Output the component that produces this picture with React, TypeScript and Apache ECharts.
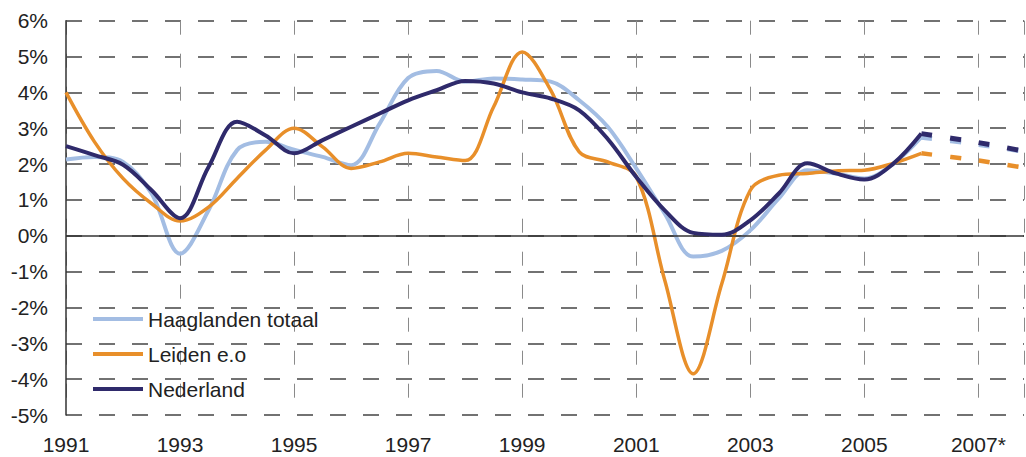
import { useEffect, useRef } from 'react';
import * as echarts from 'echarts';

const baseYear = 1991;
const years = [1991, 1991.5, 1992, 1992.5, 1993, 1993.5, 1994, 1994.5, 1995, 1995.5, 1996, 1996.5, 1997, 1997.5, 1998, 1998.5, 1999, 1999.5, 2000, 2000.5, 2001, 2001.5, 2002, 2002.5, 2003, 2003.5, 2004, 2004.5, 2005, 2005.5, 2006];
const haaglanden = [2.13, 2.2, 2.06, 1.18, -0.5, 0.71, 2.39, 2.62, 2.4, 2.2, 1.97, 3.13, 4.4, 4.6, 4.3, 4.39, 4.36, 4.3, 3.78, 3.04, 1.88, 0.62, -0.58, -0.42, 0.15, 1.04, 1.83, 1.74, 1.6, 2.0, 2.75];
const leiden = [4.0, 2.62, 1.6, 0.9, 0.41, 0.8, 1.6, 2.39, 3.0, 2.48, 1.88, 2.06, 2.3, 2.2, 2.1, 3.6, 5.13, 4.06, 2.34, 2.06, 1.65, -1.24, -3.85, -1.34, 1.27, 1.69, 1.74, 1.81, 1.83, 2.02, 2.3];
const nederland = [2.5, 2.25, 1.98, 1.27, 0.49, 1.92, 3.18, 2.8, 2.3, 2.67, 3.04, 3.41, 3.78, 4.06, 4.32, 4.25, 4.0, 3.83, 3.5, 2.7, 1.64, 0.71, 0.08, 0.03, 0.43, 1.18, 2.02, 1.74, 1.57, 2.0, 2.85];

const forecastYears = [2006, 2007, 2008];
const haaglandenForecast = [2.75, 2.55, 2.3];
const leidenForecast = [2.3, 2.1, 1.85];
const nederlandForecast = [2.85, 2.6, 2.3];

const xTickLabels = ['1991', '1993', '1995', '1997', '1999', '2001', '2003', '2005', '2007*'];
const seriesNames = ['Haaglanden totaal', 'Leiden e.o', 'Nederland'];
const colors = ['#a3bde3', '#e88f2a', '#2f2a6b'];

const FONT = 'Liberation Sans, Arial, sans-serif';

const toPairs = (xs: number[], ys: number[]) => xs.map((x, i) => [x - baseYear, ys[i]]);

export default function App() {
  const ref = useRef<HTMLDivElement>(null);
  useEffect(() => {
    if (!ref.current) return;
    const chart = echarts.init(ref.current, undefined, { renderer: 'svg' });
    const solid = [haaglanden, leiden, nederland];
    const fc = [haaglandenForecast, leidenForecast, nederlandForecast];
    const widths = [4, 3.5, 4];
    const series: any[] = [];
    solid.forEach((ys, i) => {
      const s: any = {
        name: seriesNames[i],
        type: 'line',
        data: toPairs(years, ys),
        smooth: 0.35,
        symbol: 'none',
        lineStyle: { color: colors[i], width: widths[i] },
        itemStyle: { color: colors[i] },
        z: 3 + i,
      };
      if (i === 0) {
        s.markLine = {
          silent: true,
          symbol: 'none',
          label: { show: false },
          lineStyle: { color: '#333', width: 1.5, type: 'solid' },
          data: [{ yAxis: 0 }],
        };
      }
      series.push(s);
    });
    fc.forEach((ys, i) => {
      series.push({
        name: seriesNames[i] + ' prognose',
        type: 'line',
        data: toPairs(forecastYears, ys),
        smooth: 0.2,
        symbol: 'none',
        lineStyle: { color: colors[i], width: widths[i] + 1, type: [11, 18] },
        z: 3 + i,
      });
    });
    chart.setOption({
      animation: false,
      backgroundColor: '#ffffff',
      grid: { left: 66, right: 2, top: 20.7, bottom: 42, containLabel: false },
      legend: {
        data: seriesNames,
        orient: 'vertical',
        left: 88,
        top: 303,
        icon: 'rect',
        itemWidth: 50,
        itemHeight: 4,
        itemGap: 13,
        textStyle: { fontFamily: FONT, fontSize: 21, color: '#222', lineHeight: 22 },
      },
      xAxis: {
        type: 'value',
        min: 0,
        max: 16.8,
        interval: 2,
        axisLine: { show: false },
        axisTick: { show: false },
        axisLabel: {
          margin: 19,
          fontFamily: FONT,
          fontSize: 21,
          color: '#222',
          showMaxLabel: false,
          formatter: (v: number) => (Number.isInteger(v / 2) ? xTickLabels[v / 2] ?? '' : ''),
        },
        splitLine: { show: true, lineStyle: { color: '#8a8a8a', width: 1, type: [14, 19] } },
      },
      yAxis: {
        type: 'value',
        min: -5,
        max: 6,
        interval: 1,
        axisLine: { show: true, lineStyle: { color: '#333', width: 1.5 } },
        axisTick: { show: false },
        axisLabel: {
          margin: 18,
          fontFamily: FONT,
          fontSize: 21,
          color: '#222',
          formatter: (v: number) => `${v}%`,
        },
        splitLine: { show: true, lineStyle: { color: '#444', width: 1.5, type: [16, 17] } },
      },
      series,
    });
    return () => chart.dispose();
  }, []);
  return (
    <div
      ref={ref}
      style={{ position: 'fixed', left: 0, top: 0, width: 1026, height: 457, background: '#fff' }}
    />
  );
}
